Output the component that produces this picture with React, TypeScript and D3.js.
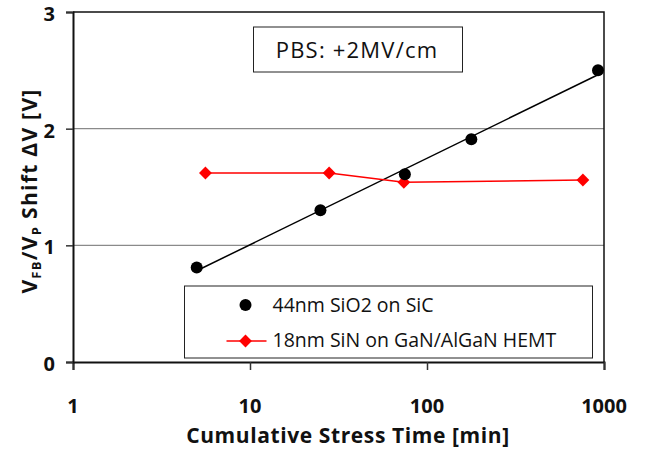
import { useEffect, useRef } from 'react'
import * as d3 from 'd3'

// 44nm SiO2 on SiC
const sio2Time = [5, 25, 75, 178, 925]
const sio2Shift = [0.81, 1.3, 1.61, 1.91, 2.5]

// 18nm SiN on GaN/AlGaN HEMT
const sinTime = [5.6, 28, 74, 760]
const sinShift = [1.62, 1.62, 1.54, 1.56]

const xTicks = [1, 10, 100, 1000]
const yTicks = [0, 1, 2, 3]
const legendLabels = ['44nm SiO2 on SiC', '18nm SiN on GaN/AlGaN HEMT']
const noteText = 'PBS: +2MV/cm'

const FONT = "'Open Sans', sans-serif"

export default function App() {
    const svgRef = useRef<SVGSVGElement>(null)

    useEffect(() => {
        if (!svgRef.current) return
        const svg = d3.select(svgRef.current)
        svg.selectAll('*').remove()

        const width = 647
        const height = 451
        const margin = { top: 12, right: 43, bottom: 89, left: 73 }

        const x = d3.scaleLog().domain([1, 1000]).range([margin.left, width - margin.right])
        const y = d3.scaleLinear().domain([0, 3]).range([height - margin.bottom, margin.top])

        svg.append('rect').attr('width', width).attr('height', height).attr('fill', '#fff')

        // gridlines
        svg.selectAll('.grid')
            .data(yTicks.filter(d => d > 0 && d < 3))
            .enter()
            .append('line')
            .attr('x1', x(1)).attr('x2', x(1000))
            .attr('y1', d => y(d)).attr('y2', d => y(d))
            .attr('stroke', '#8a8a8a')
            .attr('stroke-width', 1.2)

        // frame top + right
        svg.append('path')
            .attr('d', `M${x(1)},${y(3)}H${x(1000)}V${y(0)}`)
            .attr('fill', 'none')
            .attr('stroke', '#111')
            .attr('stroke-width', 1.5)

        // axes
        const xAxis = svg.append('g')
            .attr('transform', `translate(0,${y(0)})`)
            .call(d3.axisBottom(x).tickValues(xTicks).tickSize(8).tickFormat(() => ''))
        xAxis.select('.domain').attr('stroke', '#111').attr('stroke-width', 2)
        xAxis.selectAll('.tick line').attr('stroke', '#333').attr('stroke-width', 1.5)

        const yAxis = svg.append('g')
            .attr('transform', `translate(${x(1)},0)`)
            .call(d3.axisLeft(y).tickValues(yTicks).tickSize(7).tickFormat(() => ''))
        yAxis.select('.domain').attr('stroke', '#111').attr('stroke-width', 2)
        yAxis.selectAll('.tick line').attr('stroke', '#333').attr('stroke-width', 1.5)

        // tick labels
        svg.selectAll('.xlab')
            .data(xTicks)
            .enter()
            .append('text')
            .attr('x', d => x(d))
            .attr('y', 413)
            .attr('text-anchor', 'middle')
            .attr('font-family', FONT)
            .attr('font-weight', 700)
            .attr('font-size', '20px')
            .attr('fill', '#111')
            .text(d => d)

        svg.selectAll('.ylab')
            .data(yTicks)
            .enter()
            .append('text')
            .attr('x', 55)
            .attr('y', d => y(d) + 9)
            .attr('text-anchor', 'end')
            .attr('font-family', FONT)
            .attr('font-weight', 700)
            .attr('font-size', '20px')
            .attr('fill', '#111')
            .text(d => d)

        // axis titles
        svg.append('text')
            .attr('x', 348)
            .attr('y', 443)
            .attr('text-anchor', 'middle')
            .attr('font-family', FONT)
            .attr('font-weight', 700)
            .attr('font-size', '21px')
            .attr('letter-spacing', '0.6px')
            .attr('fill', '#111')
            .text('Cumulative Stress Time [min]')

        const yTitle = svg.append('text')
            .attr('transform', 'translate(37,191) rotate(-90)')
            .attr('text-anchor', 'middle')
            .attr('font-family', FONT)
            .attr('font-weight', 700)
            .attr('font-size', '21px')
            .attr('letter-spacing', '1.3px')
            .attr('fill', '#111')
        yTitle.append('tspan').text('V')
        yTitle.append('tspan').attr('font-size', '13px').attr('dy', 4).text('FB')
        yTitle.append('tspan').attr('dy', -4).text('/V')
        yTitle.append('tspan').attr('font-size', '13px').attr('dy', 4).text('P')
        yTitle.append('tspan').attr('dy', -4).text(' Shift \u0394V [V]')

        // SiO2 data + log fit
        const sio2 = sio2Time.map((t, i) => ({ t, v: sio2Shift[i] }))
        const lx = sio2.map(d => Math.log10(d.t))
        const mx = d3.mean(lx) as number
        const my = d3.mean(sio2, d => d.v) as number
        const slope = d3.sum(lx, (v, i) => (v - mx) * (sio2[i].v - my)) / d3.sum(lx, v => (v - mx) ** 2)
        const fit = (t: number) => my + slope * (Math.log10(t) - mx)
        const tExtent = d3.extent(sio2Time) as [number, number]

        svg.append('line')
            .attr('x1', x(tExtent[0])).attr('y1', y(fit(tExtent[0])))
            .attr('x2', x(tExtent[1])).attr('y2', y(fit(tExtent[1])))
            .attr('stroke', '#000')
            .attr('stroke-width', 1.5)

        // SiN series
        const sin = sinTime.map((t, i) => ({ t, v: sinShift[i] }))
        const line = d3.line<{ t: number; v: number }>().x(d => x(d.t)).y(d => y(d.v))
        svg.append('path')
            .datum(sin)
            .attr('fill', 'none')
            .attr('stroke', '#ff0000')
            .attr('stroke-width', 1.5)
            .attr('d', line)

        const diamond = d3.symbol().type(d3.symbolDiamond2).size(105)
        svg.selectAll('.sin-pt')
            .data(sin)
            .enter()
            .append('path')
            .attr('transform', d => `translate(${x(d.t)},${y(d.v)})`)
            .attr('d', diamond)
            .attr('fill', '#ff0000')

        svg.selectAll('.sio2-pt')
            .data(sio2)
            .enter()
            .append('circle')
            .attr('cx', d => x(d.t))
            .attr('cy', d => y(d.v))
            .attr('r', 6)
            .attr('fill', '#000')

        // note box
        svg.append('rect')
            .attr('x', 253.5).attr('y', 27)
            .attr('width', 209).attr('height', 45)
            .attr('fill', '#fff')
            .attr('stroke', '#222')
            .attr('stroke-width', 1)
        svg.append('text')
            .attr('x', 357)
            .attr('y', 58)
            .attr('text-anchor', 'middle')
            .attr('font-family', FONT)
            .attr('font-size', '22px')
            .attr('letter-spacing', '1.2px')
            .attr('fill', '#111')
            .text(noteText)

        // legend
        const legend = svg.append('g').attr('transform', 'translate(184.5,286)')
        legend.append('rect')
            .attr('width', 408).attr('height', 72)
            .attr('fill', '#fff')
            .attr('stroke', '#222')
            .attr('stroke-width', 1)
        legend.append('circle').attr('cx', 61).attr('cy', 19).attr('r', 6).attr('fill', '#000')
        legend.append('line')
            .attr('x1', 42).attr('x2', 82).attr('y1', 55).attr('y2', 55)
            .attr('stroke', '#ff0000').attr('stroke-width', 1.5)
        legend.append('path').attr('transform', 'translate(61,55)').attr('d', diamond).attr('fill', '#ff0000')
        legend.selectAll('.leg-text')
            .data(legendLabels)
            .enter()
            .append('text')
            .attr('x', 88)
            .attr('y', (_, i) => 26 + i * 35)
            .attr('font-family', FONT)
            .attr('font-size', '19.5px')
            .attr('fill', '#111')
            .text(d => d)
    }, [])

    return <svg ref={svgRef} width={647} height={451} style={{ position: 'absolute', left: 0, top: 0 }} />
}
